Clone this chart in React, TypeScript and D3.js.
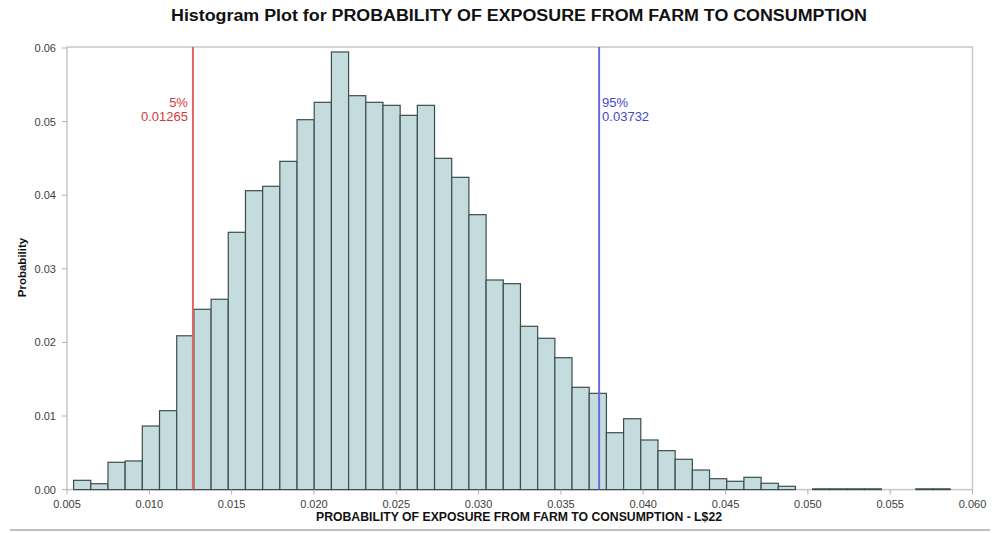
import React from "react";
import * as d3 from "d3";

const title = "Histogram Plot for PROBABILITY OF EXPOSURE FROM FARM TO CONSUMPTION";
const xLabel = "PROBABILITY OF EXPOSURE FROM FARM TO CONSUMPTION - L$22";
const yLabel = "Probability";

const binStart = 0.0054;
const binWidth = 0.001044;
const probabilities = [
  0.00126, 0.0008, 0.00371, 0.00389, 0.00864, 0.01072, 0.0209, 0.0245, 0.02586, 0.03496,
  0.04061, 0.04121, 0.0446, 0.05026, 0.05262, 0.05946, 0.05352, 0.05262, 0.05221, 0.05085,
  0.05221, 0.04501, 0.04243, 0.03735, 0.02848, 0.02798, 0.02219, 0.02056, 0.01792, 0.0139,
  0.01308, 0.00773, 0.00963, 0.00674, 0.00529, 0.00412, 0.00266, 0.00148, 0.00113, 0.00167,
  0.00086, 0.00045, 0, 0.0001, 0.0001, 0.0001, 0.0001, 0, 0, 0.0001, 0.0001,
];

const xTicks = [0.005, 0.01, 0.015, 0.02, 0.025, 0.03, 0.035, 0.04, 0.045, 0.05, 0.055, 0.06];
const yTicks = [0, 0.01, 0.02, 0.03, 0.04, 0.05, 0.06];

const percentiles = [
  { label: "5%", value: 0.01265, text: "0.01265", line: "#e06666", color: "#d43a3a", side: "left" },
  { label: "95%", value: 0.03732, text: "0.03732", line: "#6a6adc", color: "#4646cc", side: "right" },
];

export default function App() {
  const W = 1000;
  const H = 533;
  const left = 67;
  const right = 972.5;
  const top = 47;
  const bottom = 489.6;

  const x = d3.scaleLinear().domain([0.005, 0.06]).range([left, right]);
  const y = d3.scaleLinear().domain([0, 0.06]).range([bottom, bottom - 6 * 73.6]);

  const font = "Arial, 'Liberation Sans', sans-serif";

  return (
    <svg width={W} height={H} style={{ position: "absolute", left: 0, top: 0 }} fontFamily={font}>
      <rect x={0} y={0} width={W} height={H} fill="#fff" />
      <text x={171} y={20.5} fontSize={16} fontWeight="bold" fill="#111" textLength={696} lengthAdjust="spacingAndGlyphs">
        {title}
      </text>
      {/* frame */}
      <rect x={left} y={top} width={right - left} height={bottom - top} fill="none" stroke="#c8c8c8" strokeWidth={1.5} />
      {/* bars */}
      {probabilities.map((p, i) => {
        const x0 = x(binStart + i * binWidth);
        const x1 = x(binStart + (i + 1) * binWidth);
        if (p <= 0) return null;
        return (
          <rect
            key={i}
            x={x0}
            y={y(p)}
            width={x1 - x0}
            height={bottom - y(p)}
            fill="#c4dcdd"
            stroke="#3d4d4d"
            strokeWidth={1.2}
          />
        );
      })}
      {/* percentile lines */}
      {percentiles.map((pc) => {
        const px = x(pc.value);
        const anchor = pc.side === "left" ? "end" : "start";
        const tx = pc.side === "left" ? px - 5 : px + 3;
        return (
          <g key={pc.label}>
            <line x1={px} x2={px} y1={top} y2={bottom} stroke={pc.line} strokeWidth={2} />
            <text x={tx} y={106.5} textAnchor={anchor} fontSize={13} fill={pc.color}>
              {pc.label}
            </text>
            <text x={tx} y={121} textAnchor={anchor} fontSize={13} fill={pc.color}>
              {pc.text}
            </text>
          </g>
        );
      })}
      {/* y ticks */}
      {yTicks.map((t) => (
        <g key={t}>
          <line x1={left - 5} x2={left} y1={y(t)} y2={y(t)} stroke="#b0b0b0" />
          <text x={56} y={y(t) + 4} textAnchor="end" fontSize={11} fill="#404040">
            {d3.format(".2f")(t)}
          </text>
        </g>
      ))}
      {/* x ticks */}
      {xTicks.map((t) => (
        <g key={t}>
          <line x1={x(t)} x2={x(t)} y1={bottom} y2={bottom + 5} stroke="#b0b0b0" />
          <text x={x(t)} y={508} textAnchor="middle" fontSize={11} fill="#404040">
            {d3.format(".3f")(t)}
          </text>
        </g>
      ))}
      <text x={316} y={520.5} fontSize={12} fontWeight="bold" fill="#111" textLength={406} lengthAdjust="spacingAndGlyphs">
        {xLabel}
      </text>
      <text
        transform={`translate(26,${267.5}) rotate(-90)`}
        textAnchor="middle"
        fontSize={11.5}
        fontWeight="bold"
        fill="#111"
      >
        {yLabel}
      </text>
      <line x1={10} x2={990} y1={530} y2={530} stroke="#c0c0c0" strokeWidth={2} />
    </svg>
  );
}
